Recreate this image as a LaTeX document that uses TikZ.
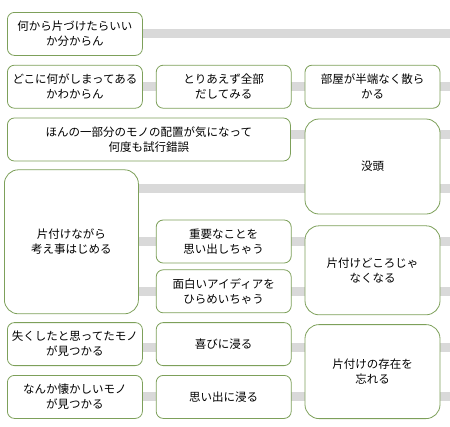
\documentclass[tikz,border=0pt]{standalone}
\usepackage{fontspec}
\newfontfamily\jpfont{Noto Sans CJK JP}
\usetikzlibrary{positioning}
\usetikzlibrary{backgrounds}
\definecolor{boxgreen}{RGB}{125,160,90}
\definecolor{bargray}{RGB}{217,217,217}

\begin{document}
\begin{tikzpicture}[box/.style={draw=boxgreen, line width=0.8pt, fill=white, rounded corners=7pt, minimum width=135pt, minimum height=43pt, inner sep=1pt, align=center, text=black, font={\jpfont\fontsize{11.5pt}{15pt}\selectfont}},
            bigbox/.style={box, rounded corners=14pt},
            bar/.style={draw=bargray, line width=9pt}]
            \useasboundingbox (0,0) rectangle (450pt,-426pt);
            \coordinate (edge) at (450pt,0);
            \node[box, anchor=north west] (where) at (7pt,-12pt) {何から片づけたらいい\\か分からん};
            \node[box, below=9pt of where] (which) {どこに何がしまってある\\かわからん};
            \node[box, right=13pt of which] (dump) {とりあえず全部\\だしてみる};
            \node[box, right=13pt of dump] (mess) {部屋が半端なく散ら\\かる};
            \node[box, minimum width=283pt, below right=9pt and 0pt of which.south west] (fuss) {ほんの一部分のモノの配置が気になって\\何度も試行錯誤};
            \node[bigbox, minimum height=95pt, below=10pt of mess] (absorb) {没頭};
            \node[bigbox, minimum width=134pt, minimum height=144pt, below right=8pt and -3pt of fuss.south west] (think) {片付けながら\\考え事はじめる};
            \node[box, below=111pt of dump] (recall) {重要なことを\\思い出しちゃう};
            \node[box, below=6pt of recall] (idea) {面白いアイディアを\\ひらめいちゃう};
            \node[bigbox, minimum height=89pt, below=11pt of absorb] (nomore) {片付けどころじゃ\\なくなる};
            \node[box, below right=8pt and 3pt of think.south west] (lost) {失くしたと思ってたモノ\\が見つかる};
            \node[box, below=9pt of lost] (nostalgia) {なんか懐かしいモノ\\が見つかる};
            \node[box, right=13pt of lost] (joy) {喜びに浸る};
            \node[box, right=13pt of nostalgia] (memory) {思い出に浸る};
            \node[bigbox, minimum height=94pt, below=9pt of nomore] (forget) {片付けの存在を\\忘れる};

            \begin{pgfonlayer}{background}
                \draw[bar] (where.east) -- (where.east -| edge);
                \draw[bar] (which.east) -- (which.east -| edge);
                \draw[bar] ([yshift=5.5pt]fuss.east) -- ([yshift=5.5pt]fuss.east -| edge);
                \draw[bar] ([yshift=-19.5pt]think.north east) -- ([yshift=-19.5pt]think.north east -| edge);
                \draw[bar] (think.east |- recall.center) -- (recall.center -| edge);
                \draw[bar] (think.east |- idea.center) -- (idea.center -| edge);
                \draw[bar] ([yshift=-3pt]lost.east) -- ([yshift=-3pt]lost.east -| edge);
                \draw[bar] (nostalgia.east) -- (nostalgia.east -| edge);
            \end{pgfonlayer}
        \end{tikzpicture}
\end{document}
